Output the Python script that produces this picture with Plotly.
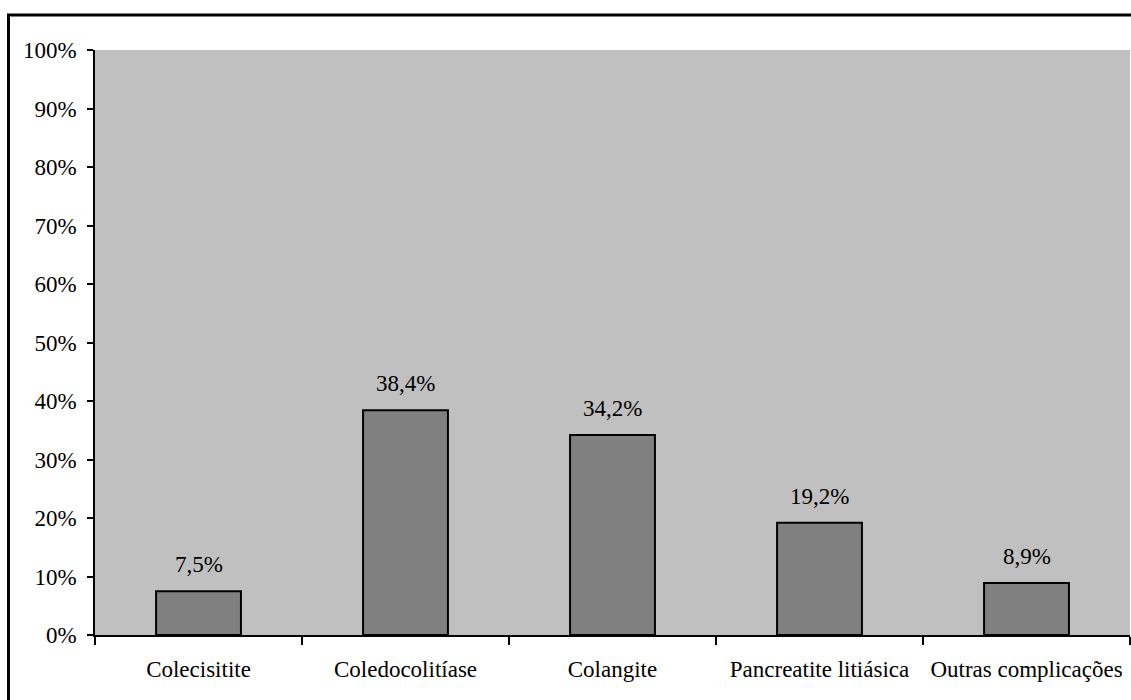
import plotly.graph_objects as go

categories = ["Colecisitite", "Coledocolitíase", "Colangite", "Pancreatite litiásica", "Outras complicações"]
values = [7.5, 38.4, 34.2, 19.2, 8.9]
y_ticks = list(range(0, 101, 10))
y_tick_labels = [f"{v}%" for v in y_ticks]

FONT = "Liberation Serif"

fig = go.Figure(
    go.Bar(
        x=categories,
        y=values,
        marker=dict(color="#808080", line=dict(color="black", width=2)),
        width=0.41,
        hoverinfo="skip",
    )
)

# value labels above each bar, with comma as decimal separator
for cat, val in zip(categories, values):
    fig.add_annotation(
        x=cat, y=val, text=f"{val:.1f}%".replace(".", ","),
        showarrow=False, yanchor="bottom", yshift=12,
        font=dict(family=FONT, size=23, color="black"),
    )

# outer frame around the chart
fig.add_shape(
    type="rect", xref="paper", yref="paper",
    x0=-0.0836, x1=1.2, y0=-0.3, y1=1.0598,
    line=dict(color="black", width=3), fillcolor="rgba(0,0,0,0)",
    layer="below",
)

fig.update_layout(
    width=1131, height=700,
    margin=dict(l=95, r=1, t=50, b=65),
    paper_bgcolor="white",
    plot_bgcolor="#C0C0C0",
    showlegend=False,
    font=dict(family=FONT, size=23, color="black"),
    xaxis=dict(
        type="category", tickson="boundaries", ticks="outside", ticklen=8,
        tickcolor="black", tickwidth=1.5,
        showline=True, linecolor="black", linewidth=1.5,
        showgrid=False, range=[-0.5, 4.5],
        tickfont=dict(family=FONT, size=23),
        ticklabelstandoff=13,
    ),
    yaxis=dict(
        range=[0, 100], tickvals=y_ticks, ticktext=y_tick_labels,
        ticks="outside", ticklen=6, tickcolor="black", tickwidth=1.5,
        showline=True, linecolor="black", linewidth=1.5,
        showgrid=False, zeroline=False,
        tickfont=dict(family=FONT, size=23),
        ticklabelstandoff=6,
    ),
)

fig.write_html("out.html")
